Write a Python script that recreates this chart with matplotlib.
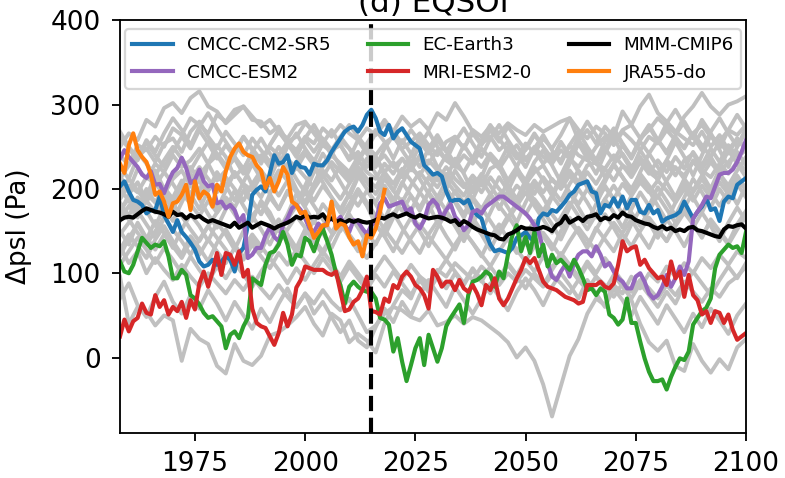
import numpy as np
import matplotlib
matplotlib.use("Agg")
import matplotlib.pyplot as plt

years = np.arange(1958, 2101)
years_jra = np.arange(1958, 2019)
years_gray = np.arange(1958, 2101, 2)

cmcc_cm2_sr5 = [
    203, 209, 197, 187, 185, 181, 171, 175, 175, 191,
    169, 159, 149, 163, 149, 143, 136, 128, 114, 108,
    110, 116, 110, 114, 120, 116, 102, 124, 130, 157,
    193, 199, 203, 197, 219, 240, 230, 232, 240, 219,
    232, 226, 225, 217, 230, 228, 228, 234, 244, 252,
    260, 268, 272, 274, 268, 276, 288, 294, 284, 268,
    264, 276, 260, 268, 272, 264, 256, 252, 248, 228,
    223, 217, 219, 215, 197, 185, 187, 187, 183, 187,
    175, 169, 165, 147, 134, 126, 128, 126, 124, 130,
    142, 145, 149, 142, 138, 165, 171, 169, 175, 173,
    179, 185, 193, 197, 205, 207, 209, 197, 195, 171,
    181, 179, 189, 179, 191, 177, 187, 187, 173, 171,
    181, 171, 175, 161, 165, 167, 169, 173, 185, 175,
    165, 173, 179, 189, 175, 177, 162, 185, 191, 189,
    205, 209, 213]

cmcc_esm2 = [
    236, 246, 238, 232, 226, 217, 213, 221, 205, 206,
    195, 209, 220, 225, 237, 225, 207, 211, 223, 209,
    203, 205, 183, 185, 177, 181, 175, 161, 169, 118,
    122, 130, 130, 145, 155, 143, 138, 157, 165, 177,
    181, 175, 165, 153, 149, 159, 153, 161, 165, 161,
    167, 157, 149, 163, 161, 153, 146, 157, 161, 183,
    189, 179, 181, 183, 185, 173, 177, 159, 153, 163,
    181, 187, 181, 165, 175, 182, 167, 161, 151, 157,
    173, 175, 171, 179, 183, 187, 191, 191, 187, 183,
    179, 175, 171, 165, 157, 149, 128, 112, 96, 92,
    102, 110, 96, 112, 122, 126, 126, 120, 132, 122,
    108, 112, 102, 94, 90, 82, 82, 96, 100, 90,
    76, 70, 74, 84, 98, 84, 94, 108, 98, 114,
    165, 173, 181, 191, 189, 203, 217, 219, 219, 223,
    232, 244, 258]

ec_earth3 = [
    114, 102, 100, 110, 126, 142, 136, 130, 134, 132,
    138, 120, 94, 94, 104, 98, 74, 70, 63, 53,
    47, 49, 43, 37, 11, 27, 31, 23, 37, 47,
    94, 90, 86, 110, 124, 126, 134, 149, 134, 110,
    122, 120, 142, 138, 126, 142, 153, 138, 122, 100,
    86, 64, 84, 90, 84, 80, 78, 78, 70, 47,
    45, 39, 7, 23, -5, -28, -9, 11, 23, -9,
    27, 11, -5, 11, 37, 47, 55, 63, 41, 74,
    90, 92, 96, 102, 98, 84, 102, 94, 122, 145,
    157, 126, 143, 124, 149, 120, 134, 108, 122, 112,
    116, 110, 104, 116, 106, 94, 80, 82, 74, 82,
    78, 51, 47, 39, 45, 70, 41, 41, 19, -1,
    -17, -28, -28, -26, -38, -23, -11, -1, -3, 7,
    39, 47, 55, 59, 70, 106, 122, 128, 134, 130,
    132, 124, 149]

mri_esm2_0 = [
    25, 45, 31, 43, 47, 64, 53, 51, 74, 60,
    68, 51, 60, 55, 66, 47, 68, 57, 88, 102,
    84, 102, 124, 98, 124, 122, 110, 126, 96, 104,
    58, 41, 37, 35, 25, 15, 29, 53, 37, 51,
    83, 92, 108, 106, 104, 104, 104, 100, 98, 102,
    78, 55, 57, 66, 70, 80, 96, 55, 54, 51,
    70, 66, 86, 82, 96, 102, 96, 86, 82, 74,
    58, 104, 96, 84, 90, 90, 80, 92, 82, 78,
    86, 76, 62, 86, 80, 94, 70, 62, 70, 82,
    94, 104, 118, 112, 118, 104, 90, 84, 82, 80,
    76, 72, 70, 68, 64, 66, 86, 86, 86, 90,
    84, 82, 88, 110, 138, 126, 130, 132, 110, 116,
    106, 100, 94, 96, 86, 114, 94, 102, 72, 98,
    74, 68, 51, 55, 41, 55, 53, 41, 51, 33,
    21, 25, 29]

mmm_cmip6 = [
    163, 166, 167, 166, 170, 174, 177, 175, 173, 172,
    170, 167, 173, 169, 170, 165, 169, 166, 168, 164,
    161, 163, 161, 159, 157, 155, 160, 154, 157, 160,
    154, 157, 160, 158, 156, 153, 156, 158, 160, 163,
    167, 165, 169, 166, 167, 166, 170, 163, 165, 161,
    163, 160, 163, 161, 163, 161, 160, 161, 163, 166,
    165, 168, 170, 167, 169, 171, 168, 166, 169, 167,
    165, 166, 167, 166, 164, 161, 163, 157, 162, 159,
    155, 152, 150, 148, 146, 145, 141, 140, 146, 148,
    151, 155, 153, 153, 152, 153, 155, 153, 150, 157,
    160, 168, 160, 163, 166, 162, 167, 168, 170, 163,
    166, 164, 169, 166, 172, 168, 167, 163, 161, 159,
    158, 155, 153, 156, 152, 154, 150, 152, 150, 154,
    155, 151, 150, 148, 146, 144, 143, 152, 156, 155,
    157, 158, 153]

jra55_do = [
    230, 219, 252, 266, 246, 238, 232, 217, 193, 197,
    185, 167, 183, 185, 193, 205, 175, 209, 189, 197,
    193, 179, 205, 197, 221, 238, 248, 254, 244, 240,
    238, 228, 222, 201, 213, 197, 209, 226, 217, 185,
    181, 171, 173, 157, 142, 149, 157, 157, 185, 153,
    159, 157, 143, 134, 138, 120, 145, 142, 153, 173,
    199]

# other CMIP6 members, every second year
gray_01 = [250, 266, 258, 282, 274, 296, 302, 290, 308, 316, 298, 292,
           278, 288, 298, 282, 280, 266, 274, 256, 262, 278, 268, 254,
           246, 252, 234, 244, 226, 238, 220, 232, 214, 228, 236, 218,
           210, 226, 212, 202, 216, 204, 224, 230, 210, 226, 206, 220,
           228, 210, 202, 222, 208, 228, 232, 214, 230, 242, 226, 238,
           220, 212, 230, 216, 234, 242, 224, 238, 220, 232, 244, 228]
gray_02 = [208, 198, 224, 212, 230, 220, 240, 226, 234, 248, 230, 240,
           224, 236, 218, 232, 240, 226, 238, 222, 232, 246, 234, 226,
           240, 230, 220, 238, 246, 230, 240, 226, 236, 222, 240, 230,
           246, 234, 226, 240, 230, 248, 236, 224, 240, 252, 236, 246,
           230, 242, 234, 252, 240, 234, 250, 262, 254, 270, 276, 260,
           270, 284, 274, 266, 286, 298, 314, 298, 288, 300, 304, 310]
gray_03 = [188, 204, 196, 214, 206, 194, 212, 222, 204, 216, 230, 210,
           222, 238, 224, 242, 232, 250, 240, 256, 246, 262, 254, 272,
           262, 276, 266, 258, 272, 264, 278, 268, 286, 274, 282, 270,
           290, 282, 302, 286, 268, 254, 262, 246, 256, 240, 234, 250,
           238, 230, 246, 236, 226, 242, 230, 224, 240, 228, 220, 236,
           226, 218, 234, 224, 216, 232, 222, 214, 230, 218, 232, 222]
gray_04 = [176, 188, 176, 194, 184, 202, 188, 206, 194, 212, 198, 216,
           204, 220, 206, 198, 216, 204, 222, 210, 226, 214, 202, 222,
           210, 228, 216, 234, 220, 212, 230, 218, 236, 224, 216, 234,
           222, 240, 228, 220, 238, 226, 242, 230, 250, 236, 254, 242,
           260, 248, 264, 284, 258, 270, 254, 274, 262, 292, 276, 298,
           312, 290, 280, 268, 260, 252, 268, 250, 264, 246, 260, 248]
gray_05 = [240, 228, 252, 246, 262, 250, 272, 264, 284, 276, 266, 288,
           280, 294, 298, 286, 274, 282, 268, 260, 276, 280, 266, 252,
           244, 258, 248, 236, 250, 240, 254, 262, 248, 256, 266, 252,
           240, 256, 262, 248, 270, 262, 274, 266, 278, 270, 264, 276,
           268, 274, 280, 284, 270, 260, 274, 266, 252, 268, 258, 246,
           262, 254, 270, 258, 250, 266, 276, 262, 256, 270, 264, 276]
gray_06 = [226, 212, 238, 248, 232, 254, 260, 244, 268, 280, 262, 248,
           268, 254, 240, 260, 246, 232, 250, 236, 224, 242, 228, 214,
           232, 220, 208, 226, 212, 202, 220, 206, 224, 210, 196, 214,
           202, 218, 204, 192, 210, 196, 214, 200, 188, 204, 194, 210,
           196, 212, 200, 216, 204, 220, 206, 224, 210, 228, 214, 232,
           218, 234, 220, 238, 224, 244, 228, 248, 232, 252, 238, 246]
gray_07 = [162, 180, 166, 186, 172, 192, 176, 196, 182, 168, 186, 172,
           190, 178, 198, 184, 170, 190, 176, 196, 182, 200, 186, 204,
           190, 176, 194, 180, 198, 184, 204, 188, 174, 192, 178, 196,
           182, 200, 186, 170, 190, 176, 194, 180, 166, 184, 170, 188,
           174, 192, 178, 196, 182, 200, 186, 202, 188, 206, 192, 208,
           196, 210, 198, 184, 200, 186, 204, 190, 208, 194, 210, 200]
gray_08 = [200, 186, 170, 192, 214, 198, 180, 204, 226, 210, 192, 176,
           198, 220, 204, 186, 170, 194, 216, 230, 212, 196, 220, 242,
           226, 208, 190, 214, 236, 218, 200, 182, 206, 228, 212, 194,
           178, 200, 222, 206, 188, 170, 192, 214, 198, 180, 204, 226,
           210, 192, 216, 238, 220, 202, 186, 208, 230, 214, 196, 220,
           242, 226, 208, 190, 212, 234, 218, 200, 224, 246, 230, 214]
gray_09 = [146, 160, 174, 158, 142, 166, 182, 168, 152, 138, 156, 172,
           186, 170, 154, 168, 182, 166, 150, 164, 180, 196, 180, 164,
           148, 166, 182, 200, 184, 168, 152, 170, 186, 170, 154, 172,
           190, 174, 158, 142, 160, 178, 162, 146, 164, 180, 196, 180,
           164, 148, 166, 184, 168, 152, 170, 188, 204, 188, 172, 156,
           174, 192, 176, 160, 178, 196, 212, 196, 180, 198, 216, 200]
gray_10 = [262, 248, 234, 256, 240, 226, 244, 262, 248, 270, 254, 236,
           252, 238, 222, 244, 260, 242, 228, 250, 266, 248, 232, 254,
           270, 252, 236, 258, 242, 226, 248, 264, 246, 230, 252, 268,
           250, 234, 256, 272, 254, 238, 260, 276, 258, 242, 226, 248,
           264, 246, 230, 252, 268, 250, 234, 256, 272, 254, 238, 260,
           276, 258, 242, 264, 280, 262, 246, 268, 284, 266, 250, 272]
gray_11 = [128, 146, 132, 118, 140, 156, 138, 122, 144, 130, 114, 136,
           152, 134, 118, 140, 126, 148, 164, 146, 130, 152, 138, 122,
           144, 160, 142, 126, 148, 134, 156, 172, 154, 138, 124, 146,
           162, 144, 128, 150, 136, 120, 142, 158, 140, 124, 146, 162,
           144, 128, 150, 166, 148, 132, 154, 140, 126, 148, 164, 146,
           130, 152, 138, 160, 176, 158, 142, 164, 150, 136, 158, 174]
gray_12 = [96, 40, 60, 54, 38, 50, 44, -4, 34, 22, 16, -10,
           -19, 16, -4, -9, 2, 26, 30, 38, 48, 60, 40, 26,
           52, 44, 18, 28, 20, 6, 40, 62, 80, 70, 96, 88,
           104, 96, 112, 102, 92, 108, 98, 86, 100, 90, 104, 94,
           84, 98, 88, 76, 92, 80, 96, 86, 72, 88, 78, 92,
           82, 70, 86, 74, 90, 78, 66, 82, 72, 88, 96, 108]
gray_13 = [132, 112, 126, 100, 118, 104, 92, 110, 96, 84, 100, 88,
           76, 92, 80, 96, 82, 70, 86, 72, 60, 76, 64, 80,
           66, 56, 70, 50, 30, 38, 52, 60, 56, 48, 44, 56,
           38, 42, 50, 40, 48, 44, 36, 28, 18, 0, 12, -4,
           -32, -70, -34, 2, 22, 52, 70, 62, 86, 76, 96, 82,
           100, 90, 108, 96, 112, 100, 118, 106, 122, 110, 126, 118]
gray_14 = [150, 134, 160, 142, 128, 146, 132, 118, 138, 122, 140, 126,
           112, 130, 116, 134, 120, 106, 124, 110, 128, 114, 100, 118,
           104, 90, 108, 94, 80, 98, 84, 102, 88, 74, 92, 78,
           96, 82, 100, 86, 104, 90, 108, 94, 112, 98, 116, 102,
           120, 106, 124, 110, 96, 114, 100, 118, 104, 90, 68, 40,
           18, 8, 20, -10, -16, 16, -4, -18, -2, -14, 12, 22]
gray_15 = [70, 88, 62, 48, 72, 90, 66, 52, 74, 58, 80, 64,
           44, 66, 50, 34, 58, 42, 64, 82, 60, 76, 52, 66,
           48, 30, 44, 20, 12, 36, 58, 42, 66, 50, 74, 92,
           76, 60, 84, 68, 52, 70, 88, 72, 56, 78, 94, 80,
           62, 84, 100, 86, 70, 92, 76, 60, 82, 68, 50, 72,
           56, 40, 62, 46, 30, 52, 36, 58, 44, 28, 50, 64]
gray_16 = [216, 196, 178, 200, 184, 168, 190, 210, 194, 176, 198, 220,
           204, 186, 208, 230, 212, 194, 176, 198, 182, 204, 226, 208,
           190, 172, 194, 216, 200, 182, 164, 186, 208, 192, 174, 196,
           218, 200, 184, 166, 188, 210, 194, 176, 198, 220, 204, 186,
           168, 190, 212, 196, 178, 160, 182, 204, 188, 170, 192, 214,
           198, 180, 162, 184, 206, 190, 172, 194, 216, 200, 182, 204]
gray_17 = [180, 164, 148, 134, 150, 166, 152, 138, 122, 140, 156, 142,
           128, 112, 130, 146, 132, 118, 136, 152, 168, 154, 140, 126,
           144, 160, 146, 132, 118, 136, 152, 138, 124, 142, 158, 144,
           130, 116, 134, 150, 136, 122, 108, 126, 142, 128, 114, 132,
           148, 134, 120, 138, 154, 140, 126, 144, 160, 146, 132, 150,
           166, 152, 138, 156, 172, 158, 144, 162, 148, 134, 152, 168]
gray_18 = [212, 228, 244, 230, 216, 234, 250, 236, 222, 240, 256, 242,
           228, 246, 262, 248, 234, 252, 268, 254, 240, 258, 244, 260,
           246, 262, 276, 262, 248, 266, 282, 268, 254, 270, 256, 242,
           258, 244, 262, 248, 266, 252, 270, 256, 274, 260, 246, 264,
           250, 236, 254, 240, 258, 244, 230, 248, 234, 252, 238, 256,
           242, 258, 244, 262, 248, 266, 252, 238, 256, 242, 260, 246]
gray_19 = [196, 212, 198, 184, 204, 220, 206, 190, 210, 226, 212, 196,
           214, 200, 186, 206, 222, 208, 192, 210, 196, 180, 200, 216,
           202, 188, 206, 222, 208, 194, 212, 198, 184, 204, 220, 206,
           190, 210, 196, 182, 202, 218, 204, 188, 208, 224, 210, 194,
           214, 200, 186, 206, 222, 208, 194, 212, 228, 214, 200, 218,
           204, 190, 210, 226, 212, 198, 216, 232, 218, 204, 222, 238]
gray_20 = [110, 126, 142, 128, 112, 130, 116, 100, 120, 104, 90, 108,
           94, 112, 98, 84, 102, 118, 104, 88, 106, 92, 110, 126,
           112, 96, 114, 100, 86, 104, 120, 106, 92, 110, 96, 82,
           100, 116, 102, 88, 106, 92, 76, 94, 110, 96, 82, 100,
           86, 104, 120, 106, 92, 110, 96, 80, 98, 84, 70, 88,
           74, 60, 78, 64, 86, 102, 88, 74, 92, 108, 94, 112]
gray_21 = [170, 194, 208, 186, 222, 200, 214, 236, 218, 196, 230, 252,
           238, 214, 226, 204, 190, 212, 236, 222, 200, 184, 206, 228,
           244, 226, 210, 232, 252, 238, 216, 198, 220, 240, 262, 248,
           226, 212, 236, 218, 196, 214, 240, 226, 204, 188, 210, 232,
           246, 228, 208, 230, 254, 236, 218, 242, 262, 240, 222, 246,
           230, 210, 234, 256, 238, 216, 240, 264, 246, 226, 250, 268]
gray_22 = [184, 168, 190, 174, 156, 178, 162, 184, 206, 188, 170, 154,
           176, 198, 180, 162, 186, 172, 150, 170, 194, 178, 160, 182,
           168, 150, 174, 196, 180, 158, 144, 166, 188, 174, 196, 182,
           160, 176, 198, 184, 166, 150, 172, 194, 178, 160, 184, 204,
           190, 170, 156, 178, 200, 184, 166, 188, 172, 154, 176, 196,
           180, 202, 186, 168, 190, 212, 196, 178, 200, 184, 206, 190]
gray_23 = [268, 250, 236, 258, 244, 266, 284, 270, 252, 274, 290, 272,
           256, 240, 262, 246, 230, 252, 270, 254, 238, 260, 276, 258,
           240, 262, 248, 230, 254, 270, 256, 236, 258, 242, 226, 248,
           264, 246, 230, 252, 236, 258, 276, 260, 244, 226, 248, 266,
           250, 234, 256, 240, 262, 280, 264, 246, 268, 252, 236, 258,
           274, 256, 278, 294, 276, 260, 282, 266, 248, 270, 288, 272]
gray_24 = [120, 142, 158, 140, 162, 148, 130, 152, 170, 156, 138, 160,
           146, 128, 150, 168, 152, 134, 156, 142, 124, 146, 162, 148,
           130, 152, 170, 154, 136, 158, 144, 126, 148, 166, 150, 132,
           154, 172, 156, 138, 160, 146, 128, 150, 168, 152, 134, 156,
           174, 158, 140, 162, 148, 130, 152, 170, 154, 136, 158, 176,
           160, 142, 164, 150, 132, 154, 172, 156, 138, 160, 178, 162]

gray_runs = [gray_01, gray_02, gray_03, gray_04, gray_05, gray_06, gray_07,
             gray_08, gray_09, gray_10, gray_11, gray_12, gray_13, gray_14,
             gray_15, gray_16, gray_17, gray_18, gray_19, gray_20, gray_21,
             gray_22, gray_23, gray_24]

models = ['CMCC-CM2-SR5', 'CMCC-ESM2', 'EC-Earth3', 'MRI-ESM2-0', 'MMM-CMIP6']
model_data = [cmcc_cm2_sr5, cmcc_esm2, ec_earth3, mri_esm2_0, mmm_cmip6]
model_colors = ['tab:blue', 'tab:purple', 'tab:green', 'tab:red', 'k']

dpi = 165
fig = plt.figure(figsize=(785/dpi, 478/dpi), dpi=dpi)
ax = fig.add_axes([120/785, 45.5/478, 626/785, 412.5/478])

for run in gray_runs:
    ax.plot(years_gray, run, color='silver', lw=1.7)

for name, vals, c in zip(models, model_data, model_colors):
    ax.plot(years, vals, color=c, lw=1.8, label=name)
ax.plot(years_jra, jra55_do, color='tab:orange', lw=1.8, label='JRA55-do')

ax.axvline(2015, color='k', ls='--', lw=1.8)

ax.set_xlim(1958, 2100)
ax.set_ylim(-89, 400.5)
ax.set_xticks([1975, 2000, 2025, 2050, 2075, 2100])
ax.set_yticks([0, 100, 200, 300, 400])
ax.tick_params(axis='both', labelsize=11.5)
ax.tick_params(axis='x', pad=4.5)
ax.tick_params(axis='y', pad=5)
ax.set_ylabel('Δpsl (Pa)', fontsize=11.5, labelpad=8)
ax.set_title('(d) EQSOI', fontsize=13.5, pad=3.5)
ax.legend(ncol=3, loc='upper center', fontsize=8, handlelength=2.2)

fig.savefig('out.png', dpi=dpi)
